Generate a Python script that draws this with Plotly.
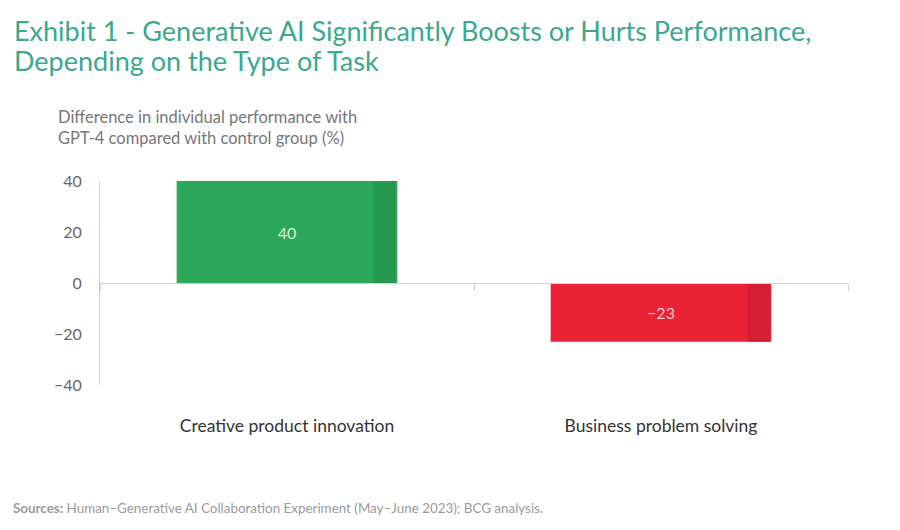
import plotly.graph_objects as go

# data
tasks = ["Creative product innovation", "Business problem solving"]
perf_diff = [40, -23]
bar_colors = ["#2BA85B", "#EA2236"]
edge_colors = ["#25994F", "#D31F31"]
text_colors = ["#D6F1DC", "#F9C9CE"]
y_ticks = [-40, -20, 0, 20, 40]
title_lines = [
    "Exhibit 1 - Generative AI Significantly Boosts or Hurts Performance,",
    "Depending on the Type of Task",
]

W, H = 900, 530
L, R, T, B = 100, 52, 181, 145


def px(x):
    return (x - L) / (W - L - R)


def py(y):
    return (H - B - y) / (H - T - B)


labels = [str(v).replace("-", "\u2212") for v in perf_diff]

fig = go.Figure()
fig.add_trace(go.Bar(
    x=tasks, y=perf_diff, width=0.59, offset=-0.295,
    marker=dict(color=bar_colors, line=dict(width=0)),
    text=labels, textposition="inside", insidetextanchor="middle",
    textfont=dict(size=16, color=text_colors, family="Lato"),
    hoverinfo="skip",
))
# darker strip at right edge of each bar
fig.add_trace(go.Bar(
    x=tasks, y=perf_diff, width=0.059, offset=0.231, xaxis="x2",
    marker=dict(color=edge_colors, line=dict(width=0)),
    hoverinfo="skip",
))

fig.update_layout(
    width=W, height=H,
    margin=dict(l=L, r=R, t=T, b=B),
    plot_bgcolor="white", paper_bgcolor="white",
    barmode="overlay", showlegend=False,
    font=dict(family="Lato", color="#555"),
    xaxis=dict(
        type="category", categoryarray=tasks, range=[-0.5, 1.5],
        showline=False, showgrid=False, zeroline=False, ticks="",
        tickfont=dict(size=17.5, color="#333"), ticklabelstandoff=28,
    ),
    xaxis2=dict(
        type="category", categoryarray=tasks, range=[-0.5, 1.5],
        overlaying="x", anchor="free", position=0.5,
        showline=True, linecolor="#D2D2D2", linewidth=1,
        ticks="outside", tickson="boundaries", ticklen=7, tickcolor="#D2D2D2",
        showticklabels=False, showgrid=False, zeroline=False,
    ),
    yaxis=dict(
        range=[-40, 40], tickvals=y_ticks, showgrid=False,
        zeroline=False, showline=True, linecolor="#D2D2D2", linewidth=1,
        tickfont=dict(size=16, color="#666"), ticklabelstandoff=14,
    ),
)

# title, two lines
for line, yc in zip(title_lines, [30, 60]):
    fig.add_annotation(
        text=line, xref="paper", yref="paper", x=px(12), y=py(yc),
        xanchor="left", yanchor="middle", showarrow=False,
        font=dict(size=27, color="#3AA98C", family="Lato"),
    )

fig.add_annotation(
    text="Difference in individual performance with<br>GPT-4 compared with control group (%)",
    xref="paper", yref="paper", x=px(56), y=py(105),
    xanchor="left", yanchor="top", align="left", showarrow=False,
    font=dict(size=16.5, color="#777"),
)
fig.add_annotation(
    text="<b>Sources:</b> Human\u2013Generative AI Collaboration Experiment (May\u2013June 2023); BCG analysis.",
    xref="paper", yref="paper", x=px(11), y=py(508),
    xanchor="left", yanchor="middle", align="left", showarrow=False,
    font=dict(size=13.4, color="#9A9A9A"),
)

fig.write_html(
    "out.html",
    config={"displayModeBar": False},
    post_script="document.body.style.margin='0';",
)
